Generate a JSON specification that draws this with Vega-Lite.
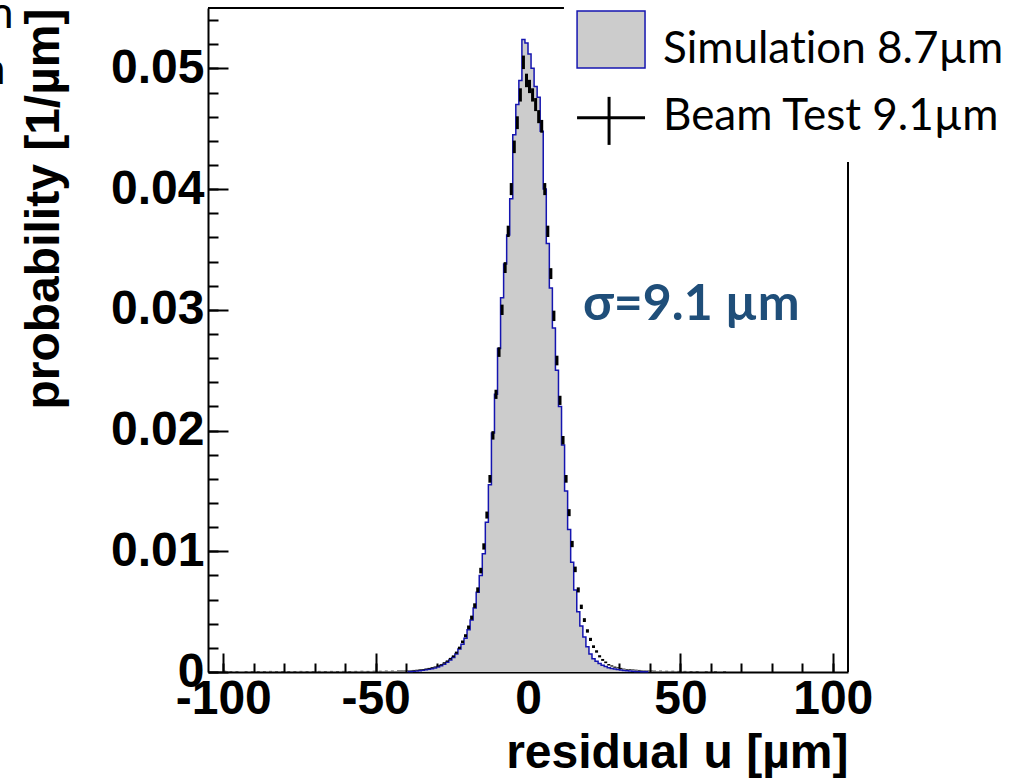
{
  "$schema": "https://vega.github.io/schema/vega-lite/v6.json",
  "width": 640,
  "height": 664,
  "autosize": "none",
  "padding": {"left": 208, "top": 8, "right": 161, "bottom": 106},
  "background": "white",
  "config": {"view": {"stroke": null}, "axis": {"labelOverlap": false}},
  "resolve": {"axis": {"x": "independent", "y": "independent"}},
  "datasets": {
    "one": [{}],
    "hist": [
      {"x": -39.5, "sim": 0.00004, "bt": 0.0001, "err": 0.00002},
      {"x": -38.5, "sim": 0.00005, "bt": 0.00012, "err": 0.00002},
      {"x": -37.5, "sim": 0.00007, "bt": 0.00014, "err": 0.00003},
      {"x": -36.5, "sim": 0.00009, "bt": 0.00016, "err": 0.00003},
      {"x": -35.5, "sim": 0.00011, "bt": 0.00019, "err": 0.00003},
      {"x": -34.5, "sim": 0.00014, "bt": 0.00022, "err": 0.00003},
      {"x": -33.5, "sim": 0.00018, "bt": 0.00026, "err": 0.00003},
      {"x": -32.5, "sim": 0.00022, "bt": 0.0003, "err": 0.00004},
      {"x": -31.5, "sim": 0.00027, "bt": 0.00036, "err": 0.00004},
      {"x": -30.5, "sim": 0.00034, "bt": 0.00042, "err": 0.00004},
      {"x": -29.5, "sim": 0.00042, "bt": 0.0005, "err": 0.00005},
      {"x": -28.5, "sim": 0.00052, "bt": 0.0006, "err": 0.00005},
      {"x": -27.5, "sim": 0.00065, "bt": 0.00075, "err": 0.00006},
      {"x": -26.5, "sim": 0.0008, "bt": 0.0009, "err": 0.00006},
      {"x": -25.5, "sim": 0.001, "bt": 0.0011, "err": 0.00007},
      {"x": -24.5, "sim": 0.0012, "bt": 0.0013, "err": 0.00008},
      {"x": -23.5, "sim": 0.0015, "bt": 0.0016, "err": 0.00009},
      {"x": -22.5, "sim": 0.0019, "bt": 0.002, "err": 0.0001},
      {"x": -21.5, "sim": 0.0023, "bt": 0.0025, "err": 0.00011},
      {"x": -20.5, "sim": 0.0028, "bt": 0.003, "err": 0.00013},
      {"x": -19.5, "sim": 0.0035, "bt": 0.0037, "err": 0.00015},
      {"x": -18.5, "sim": 0.0043, "bt": 0.0045, "err": 0.00017},
      {"x": -17.5, "sim": 0.0053, "bt": 0.0055, "err": 0.00019},
      {"x": -16.5, "sim": 0.0066, "bt": 0.0068, "err": 0.00021},
      {"x": -15.5, "sim": 0.008, "bt": 0.0084, "err": 0.00023},
      {"x": -14.5, "sim": 0.0098, "bt": 0.0104, "err": 0.00026},
      {"x": -13.5, "sim": 0.0124, "bt": 0.013, "err": 0.00029},
      {"x": -12.5, "sim": 0.0155, "bt": 0.016, "err": 0.00032},
      {"x": -11.5, "sim": 0.0198, "bt": 0.0196, "err": 0.00035},
      {"x": -10.5, "sim": 0.023, "bt": 0.023, "err": 0.00038},
      {"x": -9.5, "sim": 0.0268, "bt": 0.0265, "err": 0.0004},
      {"x": -8.5, "sim": 0.031, "bt": 0.03, "err": 0.00043},
      {"x": -7.5, "sim": 0.0338, "bt": 0.0335, "err": 0.00045},
      {"x": -6.5, "sim": 0.0362, "bt": 0.0365, "err": 0.00047},
      {"x": -5.5, "sim": 0.0392, "bt": 0.04, "err": 0.0005},
      {"x": -4.5, "sim": 0.0445, "bt": 0.0435, "err": 0.00052},
      {"x": -3.5, "sim": 0.047, "bt": 0.0455, "err": 0.00053},
      {"x": -2.5, "sim": 0.049, "bt": 0.0478, "err": 0.00055},
      {"x": -1.5, "sim": 0.0524, "bt": 0.0505, "err": 0.00056},
      {"x": -0.5, "sim": 0.0521, "bt": 0.049, "err": 0.00056},
      {"x": 0.5, "sim": 0.0512, "bt": 0.0485, "err": 0.00055},
      {"x": 1.5, "sim": 0.05, "bt": 0.0478, "err": 0.00055},
      {"x": 2.5, "sim": 0.0485, "bt": 0.047, "err": 0.00054},
      {"x": 3.5, "sim": 0.0476, "bt": 0.046, "err": 0.00054},
      {"x": 4.5, "sim": 0.0448, "bt": 0.0452, "err": 0.00053},
      {"x": 5.5, "sim": 0.04, "bt": 0.04, "err": 0.0005},
      {"x": 6.5, "sim": 0.0355, "bt": 0.0365, "err": 0.00047},
      {"x": 7.5, "sim": 0.0318, "bt": 0.033, "err": 0.00045},
      {"x": 8.5, "sim": 0.0285, "bt": 0.0295, "err": 0.00043},
      {"x": 9.5, "sim": 0.025, "bt": 0.0258, "err": 0.0004},
      {"x": 10.5, "sim": 0.022, "bt": 0.0225, "err": 0.00038},
      {"x": 11.5, "sim": 0.0188, "bt": 0.0192, "err": 0.00035},
      {"x": 12.5, "sim": 0.015, "bt": 0.016, "err": 0.00032},
      {"x": 13.5, "sim": 0.0118, "bt": 0.0132, "err": 0.00029},
      {"x": 14.5, "sim": 0.0091, "bt": 0.0106, "err": 0.00026},
      {"x": 15.5, "sim": 0.0068, "bt": 0.0085, "err": 0.00023},
      {"x": 16.5, "sim": 0.005, "bt": 0.0068, "err": 0.00021},
      {"x": 17.5, "sim": 0.0038, "bt": 0.0054, "err": 0.00018},
      {"x": 18.5, "sim": 0.0029, "bt": 0.0043, "err": 0.00016},
      {"x": 19.5, "sim": 0.0021, "bt": 0.0034, "err": 0.00014},
      {"x": 20.5, "sim": 0.0015, "bt": 0.0027, "err": 0.00013},
      {"x": 21.5, "sim": 0.0011, "bt": 0.0021, "err": 0.00011},
      {"x": 22.5, "sim": 0.0009, "bt": 0.0017, "err": 0.0001},
      {"x": 23.5, "sim": 0.0007, "bt": 0.0013, "err": 0.00009},
      {"x": 24.5, "sim": 0.00055, "bt": 0.001, "err": 0.00008},
      {"x": 25.5, "sim": 0.00045, "bt": 0.0008, "err": 0.00007},
      {"x": 26.5, "sim": 0.00036, "bt": 0.0006, "err": 0.00006},
      {"x": 27.5, "sim": 0.0003, "bt": 0.0005, "err": 0.00005},
      {"x": 28.5, "sim": 0.00025, "bt": 0.0004, "err": 0.00005},
      {"x": 29.5, "sim": 0.0002, "bt": 0.00035, "err": 0.00004},
      {"x": 30.5, "sim": 0.00016, "bt": 0.0003, "err": 0.00004},
      {"x": 31.5, "sim": 0.00013, "bt": 0.00025, "err": 0.00003},
      {"x": 32.5, "sim": 0.0001, "bt": 0.00022, "err": 0.00003},
      {"x": 33.5, "sim": 0.00008, "bt": 0.0002, "err": 0.00003},
      {"x": 34.5, "sim": 0.00006, "bt": 0.00018, "err": 0.00003},
      {"x": 35.5, "sim": 0.00005, "bt": 0.00016, "err": 0.00003},
      {"x": 36.5, "sim": 0.00004, "bt": 0.00014, "err": 0.00003},
      {"x": 37.5, "sim": 0.00003, "bt": 0.00012, "err": 0.00002},
      {"x": 38.5, "sim": 0.00002, "bt": 0.0001, "err": 0.00002},
      {"x": 39.5, "sim": 0.00002, "bt": 0.0001, "err": 0.00002}
    ],
    "tail": [
      {"x": -99.5, "bt": 0.00008, "err": 0.00002},
      {"x": -97.5, "bt": 0.00004, "err": 0.00002},
      {"x": -95.5, "bt": 0.00006, "err": 0.00002},
      {"x": -92.5, "bt": 0.00005, "err": 0.00002},
      {"x": -90.5, "bt": 0.00004, "err": 0.00002},
      {"x": -88.5, "bt": 0.00006, "err": 0.00002},
      {"x": -86.5, "bt": 0.00005, "err": 0.00002},
      {"x": -84.5, "bt": 0.00007, "err": 0.00002},
      {"x": -82.5, "bt": 0.00005, "err": 0.00002},
      {"x": -80.5, "bt": 0.00006, "err": 0.00002},
      {"x": -78.5, "bt": 0.00005, "err": 0.00002},
      {"x": -76.5, "bt": 0.00006, "err": 0.00002},
      {"x": -74.5, "bt": 0.00007, "err": 0.00002},
      {"x": -72.5, "bt": 0.00005, "err": 0.00002},
      {"x": -70.5, "bt": 0.00006, "err": 0.00002},
      {"x": -68.5, "bt": 0.00007, "err": 0.00002},
      {"x": -66.5, "bt": 0.00006, "err": 0.00002},
      {"x": -64.5, "bt": 0.00007, "err": 0.00002},
      {"x": -62.5, "bt": 0.00006, "err": 0.00002},
      {"x": -60.5, "bt": 0.00007, "err": 0.00002},
      {"x": -58.5, "bt": 0.00006, "err": 0.00002},
      {"x": -56.5, "bt": 0.00007, "err": 0.00002},
      {"x": -54.5, "bt": 0.00008, "err": 0.00002},
      {"x": -52.5, "bt": 0.00007, "err": 0.00002},
      {"x": -50.5, "bt": 0.00008, "err": 0.00002},
      {"x": -48.5, "bt": 0.00008, "err": 0.00002},
      {"x": -46.5, "bt": 0.00009, "err": 0.00002},
      {"x": -44.5, "bt": 0.00009, "err": 0.00002},
      {"x": -42.5, "bt": 0.0001, "err": 0.00002},
      {"x": -41.5, "bt": 0.0001, "err": 0.00002},
      {"x": -40.5, "bt": 0.0001, "err": 0.00002},
      {"x": 40.5, "bt": 0.0001, "err": 0.00002},
      {"x": 41.5, "bt": 0.00009, "err": 0.00002},
      {"x": 43.5, "bt": 0.00009, "err": 0.00002},
      {"x": 45.5, "bt": 0.00008, "err": 0.00002},
      {"x": 47.5, "bt": 0.00008, "err": 0.00002},
      {"x": 49.5, "bt": 0.00007, "err": 0.00002},
      {"x": 51.5, "bt": 0.00007, "err": 0.00002},
      {"x": 53.5, "bt": 0.00006, "err": 0.00002},
      {"x": 55.5, "bt": 0.00006, "err": 0.00002},
      {"x": 58.5, "bt": 0.00005, "err": 0.00002},
      {"x": 61.5, "bt": 0.00005, "err": 0.00002},
      {"x": 64.5, "bt": 0.00004, "err": 0.00002}
    ]
  },
  "layer": [
    {
      "data": {"name": "hist"},
      "mark": {"type": "area", "interpolate": "step", "color": "#cccccc"},
      "encoding": {
        "x": {
          "field": "x", "type": "quantitative",
          "scale": {"domain": [-105, 105], "nice": false, "zero": false},
          "axis": {
            "orient": "bottom",
            "title": "residual u [µm]",
            "titleFont": "Liberation Sans", "titleFontSize": 48, "titleFontWeight": "bold", "titleColor": "black",
            "titleAnchor": "end", "titlePadding": 6,
            "values": [-100, -50, 0, 50, 100],
            "labelExpr": "toString(datum.value)",
            "labelFont": "Liberation Sans", "labelFontSize": 48, "labelFontWeight": "bold", "labelColor": "black",
            "labelOverlap": false, "labelBound": false, "labelFlush": false, "labelPadding": 22,
            "tickSize": -19,
            "tickColor": "black", "tickWidth": 2,
            "domainColor": "black", "domainWidth": 2, "grid": false
          }
        },
        "y": {
          "field": "sim", "type": "quantitative",
          "scale": {"domain": [0, 0.055], "nice": false},
          "axis": {
            "orient": "left",
            "title": "probability [1/µm]",
            "titleFont": "Liberation Sans", "titleFontSize": 48, "titleFontWeight": "bold", "titleColor": "black",
            "titleAnchor": "end", "titlePadding": 42,
            "values": [0, 0.01, 0.02, 0.03, 0.04, 0.05],
            "labelExpr": "toString(datum.value)",
            "labelFont": "Liberation Sans", "labelFontSize": 48, "labelFontWeight": "bold", "labelColor": "black",
            "labelOverlap": false, "labelBound": false, "labelFlush": false, "labelPadding": 24,
            "tickSize": -20,
            "tickColor": "black", "tickWidth": 2,
            "domainColor": "black", "domainWidth": 2, "grid": false
          }
        }
      }
    },
    {
      "data": {"name": "hist"},
      "mark": {"type": "line", "interpolate": "step", "color": "#1515b0", "strokeWidth": 1.5},
      "encoding": {
        "x": {
          "field": "x", "type": "quantitative",
          "axis": {
            "orient": "bottom", "title": null, "labels": false, "domain": false, "grid": false,
            "values": [-100, -90, -80, -70, -60, -50, -40, -30, -20, -10, 0, 10, 20, 30, 40, 50, 60, 70, 80, 90, 100],
            "tickSize": -9, "tickColor": "black", "tickWidth": 2
          }
        },
        "y": {
          "field": "sim", "type": "quantitative",
          "axis": {
            "orient": "left", "title": null, "labels": false, "domain": false, "grid": false,
            "values": [0, 0.002, 0.004, 0.006, 0.008, 0.01, 0.012, 0.014, 0.016, 0.018, 0.02, 0.022, 0.024, 0.026, 0.028, 0.03, 0.032, 0.034, 0.036, 0.038, 0.04, 0.042, 0.044, 0.046, 0.048, 0.05, 0.052, 0.054],
            "tickSize": -10, "tickColor": "black", "tickWidth": 2
          }
        }
      }
    },
    {
      "data": {"name": "hist"},
      "mark": {"type": "errorbar", "thickness": 3, "color": "black"},
      "encoding": {
        "x": {"field": "x", "type": "quantitative", "axis": null},
        "y": {"field": "bt", "type": "quantitative", "axis": null},
        "yError": {"field": "err"}
      }
    },
    {
      "data": {"name": "tail"},
      "mark": {"type": "errorbar", "thickness": 3, "color": "black"},
      "encoding": {
        "x": {"field": "x", "type": "quantitative", "axis": null},
        "y": {"field": "bt", "type": "quantitative", "axis": null},
        "yError": {"field": "err"}
      }
    },
    {
      "data": {"name": "one"},
      "mark": {"type": "rule", "color": "black", "strokeWidth": 2},
      "encoding": {"x": {"datum": -105, "axis": null}, "x2": {"datum": 11.8}, "y": {"datum": 0.055, "axis": null}}
    },
    {
      "data": {"name": "one"},
      "mark": {"type": "rule", "color": "black", "strokeWidth": 2},
      "encoding": {"x": {"datum": 105, "axis": null}, "y": {"datum": 0, "axis": null}, "y2": {"datum": 0.04225}}
    },
    {
      "data": {"name": "one"},
      "mark": {"type": "rect", "fill": "#cccccc", "stroke": "#1515b0", "strokeWidth": 1.5},
      "encoding": {"x": {"datum": 16.1, "axis": null}, "x2": {"datum": 38.4}, "y": {"datum": 0.05004, "axis": null}, "y2": {"datum": 0.05476}}
    },
    {
      "data": {"name": "one"},
      "mark": {"type": "rule", "color": "black", "strokeWidth": 3},
      "encoding": {"x": {"datum": 16.1, "axis": null}, "x2": {"datum": 38.4}, "y": {"datum": 0.0459, "axis": null}}
    },
    {
      "data": {"name": "one"},
      "mark": {"type": "rule", "color": "black", "strokeWidth": 3},
      "encoding": {"x": {"datum": 26.6, "axis": null}, "y": {"datum": 0.04366, "axis": null}, "y2": {"datum": 0.04764}}
    },
    {
      "data": {"name": "one"},
      "mark": {"type": "text", "text": "Simulat\u200cion 8.7µm", "font": "Lato", "fontSize": 44, "align": "left", "baseline": "alphabetic", "color": "black"},
      "encoding": {"x": {"datum": 44.3, "axis": null}, "y": {"datum": 0.05046, "axis": null}}
    },
    {
      "data": {"name": "one"},
      "mark": {"type": "text", "text": "Beam Test 9.1µm", "font": "Lato", "fontSize": 44, "align": "left", "baseline": "alphabetic", "color": "black"},
      "encoding": {"x": {"datum": 44.3, "axis": null}, "y": {"datum": 0.0449, "axis": null}}
    },
    {
      "data": {"name": "one"},
      "mark": {"type": "text", "text": "σ=9.1 µm", "font": "Lato", "fontSize": 50, "fontWeight": "bold", "align": "left", "baseline": "alphabetic", "color": "#1f4e79"},
      "encoding": {"x": {"datum": 18.06, "axis": null}, "y": {"datum": 0.02916, "axis": null}}
    },
    {
      "data": {"name": "one"},
      "mark": {"type": "text", "text": "n", "font": "Lato", "fontSize": 44, "align": "right", "baseline": "alphabetic", "color": "black"},
      "encoding": {"x": {"datum": -168.8, "axis": null}, "y": {"datum": 0.05335, "axis": null}}
    },
    {
      "data": {"name": "one"},
      "mark": {"type": "text", "text": "n", "font": "Lato", "fontSize": 44, "align": "right", "baseline": "alphabetic", "color": "black"},
      "encoding": {"x": {"datum": -171.4, "axis": null}, "y": {"datum": 0.04872, "axis": null}}
    }
  ]
}
